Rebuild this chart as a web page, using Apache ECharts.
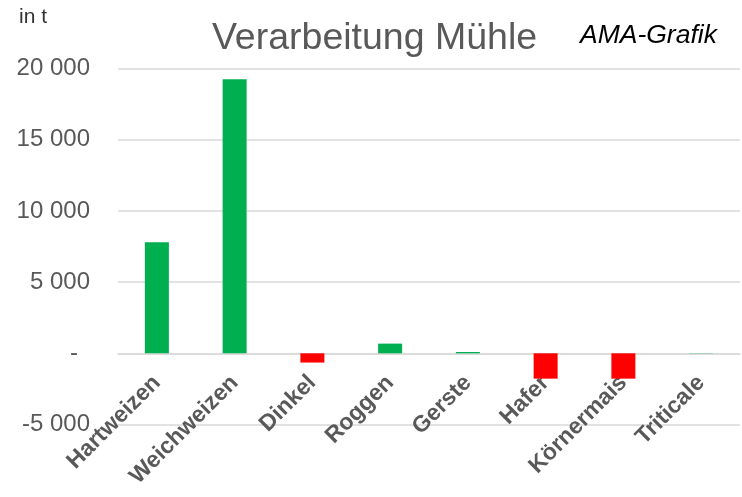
<!DOCTYPE html>
<html>
<head>
    <meta charset="UTF-8">
    <title>Verarbeitung Mühle</title>
    <script src="https://cdn.jsdelivr.net/npm/echarts@6/dist/echarts.min.js"></script>
    <style>
        html, body { margin: 0; padding: 0; background: #fff; }
        #chart { width: 742px; height: 497px; }
    </style>
</head>
<body>
<div id="chart"></div>
<script type="text/javascript">
    // Kategorien (Getreidearten)
    var categories = ['Hartweizen', 'Weichweizen', 'Dinkel', 'Roggen', 'Gerste', 'Hafer', 'Körnermais', 'Triticale'];
    // Veränderung Verarbeitung in t
    var values = [7800, 19250, -650, 680, 90, -1780, -1780, 15];
    // y-Achse
    var yMin = -5000;
    var yMax = 20000;
    var yStep = 5000;

    var font = 'Arial, "Liberation Sans", sans-serif';

    // Plotfläche
    var gridTop = 68.5;
    var gridBottom = 72.5;
    var plotHeight = 497 - gridTop - gridBottom;
    // x-Achse bei 0 (Beschriftung direkt unter der Nulllinie)
    var zeroOffset = -plotHeight * (0 - yMin) / (yMax - yMin);

    function fmt(v) {
        return String(v).replace(/\B(?=(\d{3})+(?!\d))/g, ' ');
    }

    var chart = echarts.init(document.getElementById('chart'));

    var option = {
        animation: false,
        backgroundColor: '#ffffff',
        grid: {
            left: 118,
            right: 2,
            top: gridTop,
            bottom: gridBottom,
            containLabel: false,
            outerBoundsMode: 'none'
        },
        graphic: [
            {
                type: 'text', x: 19, y: 17,
                style: {
                    text: 'in t', font: '21px ' + font, fill: '#333333',
                    textAlign: 'left', textVerticalAlign: 'middle'
                }
            },
            {
                type: 'text', x: 374.5, y: 39,
                style: {
                    text: 'Verarbeitung Mühle', font: '37.5px ' + font, fill: '#595959',
                    textAlign: 'center', textVerticalAlign: 'middle'
                }
            },
            {
                type: 'text', x: 580, y: 36,
                style: {
                    text: 'AMA-Grafik', font: 'italic 26.5px ' + font, fill: '#000000',
                    textAlign: 'left', textVerticalAlign: 'middle'
                }
            }
        ],
        xAxis: {
            type: 'category',
            data: categories,
            offset: zeroOffset,
            axisLine: { onZero: false, lineStyle: { color: '#d9d9d9', width: 1.5 } },
            axisTick: { show: false },
            axisLabel: {
                rotate: 45,
                interval: 0,
                margin: 26,
                color: '#595959',
                fontWeight: 'bold',
                fontSize: 23,
                fontFamily: font
            }
        },
        yAxis: {
            type: 'value',
            min: yMin,
            max: yMax,
            interval: yStep,
            axisLine: { show: false },
            axisTick: { show: false },
            splitLine: { lineStyle: { color: '#d9d9d9', width: 1.5 } },
            axisLabel: {
                margin: 28,
                color: '#595959',
                fontSize: 24,
                fontFamily: font,
                formatter: function (v) {
                    if (v === 0) return '{z|-}';
                    return fmt(v);
                },
                rich: {
                    z: { fontSize: 24, fontFamily: font, color: '#595959', padding: [0, 12, 0, 0] }
                }
            }
        },
        series: [
            {
                type: 'bar',
                data: values,
                barWidth: 24,
                z: 3,
                itemStyle: {
                    color: function (p) {
                        return p.value < 0 ? '#ff0000' : '#00b050';
                    }
                }
            }
        ]
    };

    chart.setOption(option);
</script>
</body>
</html>
